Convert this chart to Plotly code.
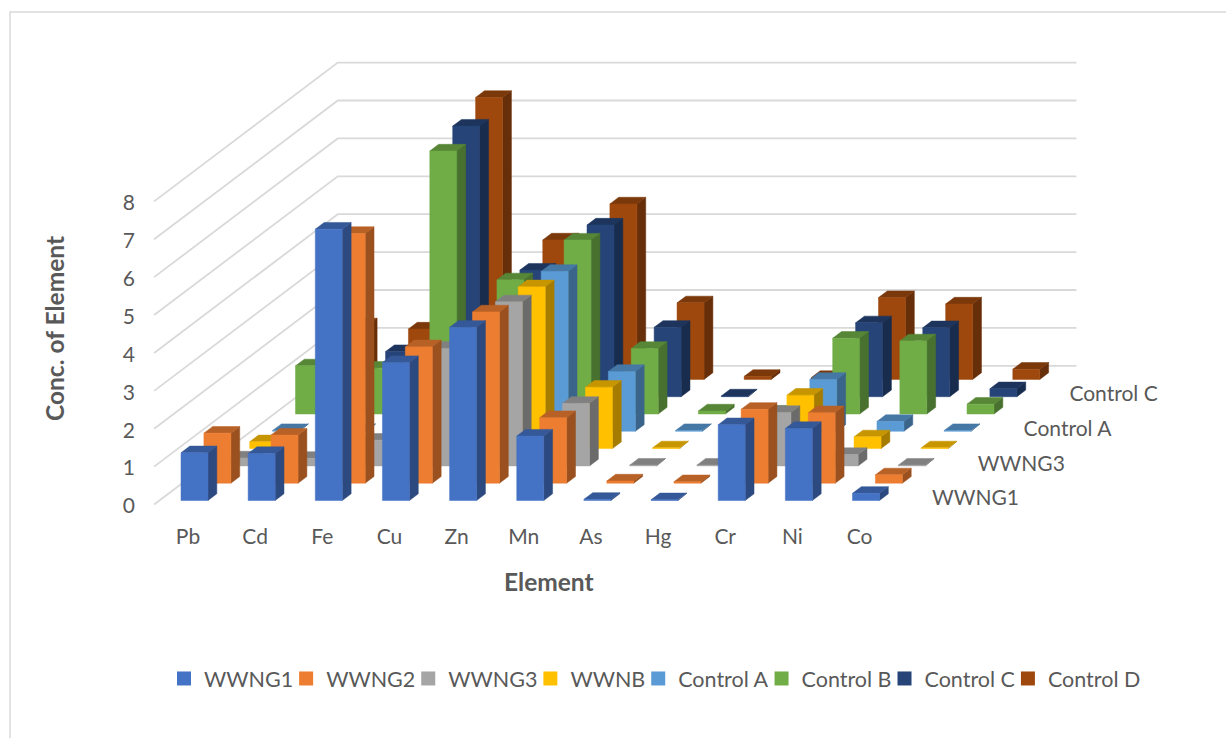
import plotly.graph_objects as go

elements = ["Pb", "Cd", "Fe", "Cu", "Zn", "Mn", "As", "Hg", "Cr", "Ni", "Co"]
wwng1     = [1.26, 1.24, 7.16, 3.64, 4.57, 1.70, 0.03, 0.02, 2.00, 1.90, 0.19]
wwng2     = [1.32, 1.27, 6.59, 3.60, 4.52, 1.73, 0.06, 0.04, 1.95, 1.86, 0.22]
wwng3     = [0.21, 0.20, 0.68, 3.10, 4.33, 1.65, 0.02, 0.02, 1.41, 0.30, 0.02]
wwnb      = [0.18, 0.15, 0.50, 2.50, 4.27, 1.62, 0.02, 0.02, 1.41, 0.31, 0.02]
control_a = [0.02, 0.02, 0.02, 0.02, 4.22, 1.58, 0.02, 0.02, 1.37, 0.26, 0.02]
control_b = [1.27, 1.21, 6.94, 3.54, 4.59, 1.73, 0.08, 0.05, 2.00, 1.93, 0.26]
control_c = [1.25, 1.19, 7.14, 3.34, 4.53, 1.83, 0.02, 0.02, 1.95, 1.82, 0.21]
control_d = [1.44, 1.33, 7.44, 3.68, 4.63, 2.02, 0.08, 0.05, 2.16, 1.99, 0.27]

series_names = ["WWNG1", "WWNG2", "WWNG3", "WWNB", "Control A", "Control B", "Control C", "Control D"]
series_values = [wwng1, wwng2, wwng3, wwnb, control_a, control_b, control_c, control_d]
series_colors = ["#4472C4", "#ED7D31", "#A5A5A5", "#FFC000", "#5B9BD5", "#70AD47", "#264478", "#9E480E"]
depth_labels = {0: "WWNG1", 2: "WWNG3", 4: "Control A", 6: "Control C"}
value_ticks = list(range(9))

W, H = 1226, 738
L, R, T, B = 136, 1190, 30, 522
X_ORIGIN, X_UNIT = 188.0, 67.15     # pixel of category 0 label; px per category
Y_ORIGIN, Y_UNIT = 506.0, 37.9      # pixel of value 0 tick; px per unit
FONT = "Lato"
TXT = "#595959"
GRID = "#D9D9D9"
FS = 21

# oblique projection, in axis units
ROW_DX = 22.9 / X_UNIT
ROW_DY = 17.3 / Y_UNIT
BAR_LEFT = -7.0 / X_UNIT
BAR_BASE = 5.5 / Y_UNIT
BAR_W = 27.0 / X_UNIT
BAR_D = 0.385


def proj(c, depth, v):
    return (c + BAR_LEFT + depth * ROW_DX, v + BAR_BASE + depth * ROW_DY)


def shade(hex_color, f):
    r, g, b = (int(hex_color[i:i + 2], 16) for i in (1, 3, 5))
    return f"rgb({int(r * f)},{int(g * f)},{int(b * f)})"


def polys(faces):
    xs, ys = [], []
    for face in faces:
        for px, py in face:
            xs.append(px)
            ys.append(py)
        xs.append(face[0][0])
        ys.append(face[0][1])
        xs.append(None)
        ys.append(None)
    return xs, ys


fig = go.Figure()

# walls
F0, F1 = -0.298, 10.702
D0, D1 = -0.3, 7.72
gx, gy = [], []
for v in value_ticks:
    a = proj(F0, D0, v + 0.03)
    b = proj(F0, D1, v + 0.03)
    c = proj(F1, D1, v + 0.03)
    gx += [a[0], b[0], c[0], None]
    gy += [a[1], b[1], c[1], None]
fig.add_trace(go.Scatter(x=gx, y=gy, mode="lines", line=dict(color=GRID, width=1.8),
                         showlegend=False, hoverinfo="skip"))

# bars, back row first
for k in reversed(range(len(series_names))):
    vals = series_values[k]
    col = series_colors[k]
    front, top, side = [], [], []
    for i, v in enumerate(vals):
        a = proj(i, k, 0)
        b = proj(i + BAR_W, k, 0)
        c = proj(i + BAR_W, k, v)
        d = proj(i, k, v)
        e = proj(i, k + BAR_D, v)
        f = proj(i + BAR_W, k + BAR_D, v)
        g = proj(i + BAR_W, k + BAR_D, 0)
        front.append([a, b, c, d])
        top.append([d, c, f, e])
        side.append([b, g, f, c])
    for faces, fac in ((side, 0.65), (top, 0.78), (front, 1.0)):
        xs, ys = polys(faces)
        color = shade(col, fac)
        fig.add_trace(go.Scatter(x=xs, y=ys, mode="lines", fill="toself", fillcolor=color,
                                 line=dict(color=color, width=0.5),
                                 name=series_names[k], legendgroup=series_names[k],
                                 showlegend=False, hoverinfo="skip"))

# depth axis labels
lx, ly, lt = [], [], []
for k, label in depth_labels.items():
    lx.append((932.0 - X_ORIGIN) / X_UNIT + k * ROW_DX)
    ly.append((Y_ORIGIN - 500.0) / Y_UNIT + k * ROW_DY)
    lt.append(label)
fig.add_trace(go.Scatter(x=lx, y=ly, text=lt, mode="text", textposition="middle right",
                         textfont=dict(family=FONT, size=FS, color=TXT),
                         showlegend=False, hoverinfo="skip", cliponaxis=False))

# legend entries
for name, col in zip(series_names, series_colors):
    fig.add_trace(go.Scatter(x=[None], y=[None], mode="markers", name=name, legendgroup=name,
                             marker=dict(symbol="square", size=14, color=col)))

plot_w, plot_h = R - L, B - T
fig.update_layout(
    width=W, height=H, paper_bgcolor="white", plot_bgcolor="white",
    margin=dict(l=L, r=W - R, t=T, b=H - B, autoexpand=False),
    font=dict(family=FONT, size=FS, color=TXT),
    xaxis=dict(range=[(L - X_ORIGIN) / X_UNIT, (R - X_ORIGIN) / X_UNIT],
               tickvals=list(range(len(elements))), ticktext=elements,
               showgrid=False, zeroline=False, showline=False, ticks="",
               ticklabelstandoff=0, tickfont=dict(family=FONT, size=FS, color=TXT)),
    yaxis=dict(range=[(Y_ORIGIN - B) / Y_UNIT, (Y_ORIGIN - T) / Y_UNIT],
               tickvals=value_ticks, ticktext=[str(v) for v in value_ticks],
               showgrid=False, zeroline=False, showline=False, ticks="",
               tickfont=dict(family=FONT, size=FS, color=TXT)),
    legend=dict(orientation="h", x=(176 - L) / plot_w, xanchor="left",
                y=(B - 658) / plot_h, yanchor="top", indentation=-12,
                font=dict(family=FONT, size=21.5, color=TXT), traceorder="normal",
                itemclick=False, itemdoubleclick=False),
    annotations=[
        dict(text="<b>Element</b>", xref="paper", yref="paper",
             x=(549 - L) / plot_w, y=(B - 581) / plot_h, showarrow=False,
             font=dict(family=FONT, size=24.5, color=TXT), xanchor="center", yanchor="middle"),
        dict(text="<b>Conc. of Element</b>", xref="paper", yref="paper",
             x=(54 - L) / plot_w, y=(B - 329) / plot_h, showarrow=False, textangle=-90,
             font=dict(family=FONT, size=24.5, color=TXT), xanchor="center", yanchor="middle"),
    ],
    shapes=[dict(type="rect", xref="paper", yref="paper",
                 x0=(10 - L) / plot_w, x1=(1300 - L) / plot_w,
                 y0=(B - 800) / plot_h, y1=(B - 12) / plot_h,
                 line=dict(color=GRID, width=1.5), fillcolor="rgba(0,0,0,0)", layer="below")],
)
fig.write_html("out.html", config={"displayModeBar": False},
               post_script="document.body.style.margin='0';")
